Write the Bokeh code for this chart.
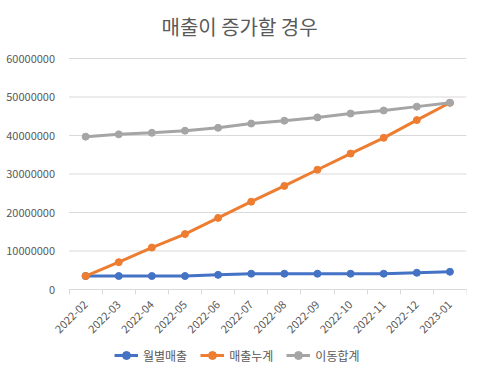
import math
from bokeh.plotting import figure
from bokeh.models import (Range1d, FixedTicker, Legend, LegendItem, ColumnDataSource,
                          BasicTickFormatter)
from bokeh.embed import file_html
from bokeh.resources import INLINE

months = ["2022-02", "2022-03", "2022-04", "2022-05", "2022-06", "2022-07",
          "2022-08", "2022-09", "2022-10", "2022-11", "2022-12", "2023-01"]
monthly = [3.5e6, 3.5e6, 3.5e6, 3.5e6, 3.8e6, 4.1e6, 4.1e6, 4.1e6, 4.1e6, 4.1e6, 4.35e6, 4.6e6]
cumulative = [3.5e6, 7.1e6, 10.9e6, 14.4e6, 18.6e6, 22.8e6, 26.9e6, 31.1e6, 35.3e6, 39.4e6, 44.0e6, 48.5e6]
moving = [39.7e6, 40.3e6, 40.7e6, 41.25e6, 42.0e6, 43.1e6, 43.85e6, 44.7e6, 45.7e6, 46.5e6, 47.5e6, 48.5e6]
names = ["월별매출", "매출누계", "이동합계"]
colors = ["#4472C4", "#ED7D31", "#A5A5A5"]
y_ticks = [0, 10000000, 20000000, 30000000, 40000000, 50000000, 60000000]

FONT = "Noto Sans CJK KR"
TXT = "#595959"
N = len(months)
xs = [i + 0.5 for i in range(N)]

# frame: 466px wide (68px left of the first band for the y labels),
# 315px tall (8px headroom, 231px for 0..60M, 76px below zero for x labels + legend)
BAND = 397 / N
X_MIN = -68.5 / BAND
PER_PX = 60000000 / 231
Y_MAX = 60000000 + 8 * PER_PX
Y_MIN = -76 * PER_PX

p = figure(frame_width=466, frame_height=315, output_backend="svg", toolbar_location=None,
           x_range=Range1d(X_MIN, N), y_range=Range1d(Y_MIN, Y_MAX),
           min_border_left=0, min_border_right=6, min_border_top=47, min_border_bottom=0)
p.outline_line_color = None
p.border_fill_color = "white"

p.title.text = "매출이 증가할 경우"
p.title.align = "left"
p.title.text_font = FONT
p.title.text_font_size = "20px"
p.title.text_font_style = "normal"
p.title.text_color = TXT
p.title.offset = 161
p.title.standoff = 19

# horizontal gridlines only across the category area
p.xgrid.grid_line_color = None
p.ygrid.grid_line_color = None
p.segment(x0=0, x1=N, y0=y_ticks, y1=y_ticks, line_color="#D9D9D9", line_width=1,
          level="underlay")

# y axis, fixed at x = 0
p.yaxis.fixed_location = 0
p.yaxis.ticker = FixedTicker(ticks=y_ticks)
p.yaxis.formatter = BasicTickFormatter(use_scientific=False)
p.yaxis.axis_line_color = None
p.yaxis.major_tick_line_color = None
p.yaxis.minor_tick_line_color = None
p.yaxis.major_label_text_font = FONT
p.yaxis.major_label_text_font_size = "11px"
p.yaxis.major_label_text_color = TXT
p.yaxis.major_label_standoff = 8

# x axis, fixed at y = 0
p.xaxis.fixed_location = 0
p.xaxis.bounds = (0, N)
p.xaxis.ticker = FixedTicker(ticks=xs, minor_ticks=list(range(N + 1)))
p.xaxis.major_label_overrides = {x: m for x, m in zip(xs, months)}
p.xaxis.major_label_orientation = math.pi / 4
p.xaxis.axis_line_color = "#D9D9D9"
p.xaxis.major_tick_line_color = None
p.xaxis.minor_tick_line_color = "#D9D9D9"
p.xaxis.minor_tick_out = 5
p.xaxis.minor_tick_in = 0
p.xaxis.major_label_text_font = FONT
p.xaxis.major_label_text_font_size = "11px"
p.xaxis.major_label_text_color = TXT
p.xaxis.major_label_standoff = 7

items = []
for name, vals, c in zip(names, [monthly, cumulative, moving], colors):
    src = ColumnDataSource(dict(x=xs, y=vals))
    r1 = p.line("x", "y", source=src, line_color=c, line_width=3)
    r2 = p.scatter("x", "y", source=src, size=7, fill_color=c, line_color=c)
    items.append(LegendItem(label=name, renderers=[r1, r2]))

legend = Legend(items=items, orientation="horizontal", location=(114, 0))
legend.label_text_font = FONT
legend.label_text_font_size = "12px"
legend.label_text_color = TXT
legend.border_line_color = None
legend.background_fill_alpha = 0
legend.glyph_width = 24
legend.label_standoff = 5
legend.spacing = 13
legend.margin = 0
legend.padding = 0
p.add_layout(legend, "center")

open("out.html", "w").write(file_html(p, INLINE))
